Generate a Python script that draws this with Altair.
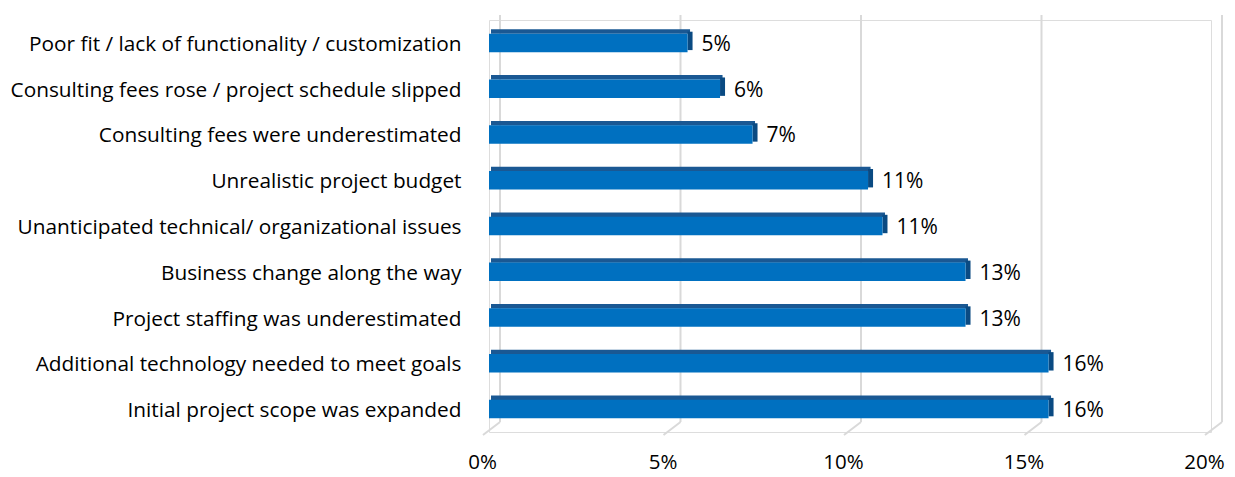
import altair as alt
import pandas as pd

categories = [
    "Poor fit / lack of functionality / customization",
    "Consulting fees rose / project schedule slipped",
    "Consulting fees were underestimated",
    "Unrealistic project budget ",
    "Unanticipated technical/ organizational issues",
    "Business change along the way",
    "Project staffing was underestimated",
    "Additional technology needed to meet goals",
    "Initial project scope was expanded",
]
values = [5.5, 6.4, 7.3, 10.5, 10.9, 13.2, 13.2, 15.5, 15.5]
value_labels = ["5%", "6%", "7%", "11%", "11%", "13%", "13%", "16%", "16%"]
ticks = [0, 5, 10, 15, 20]

FONT = "Open Sans"
FS = 21
FRONT = "#0070C0"
TOP = "#1A5893"
SIDE = "#0A4A82"
GRID = "#D9D9D9"

df = pd.DataFrame({"cat": categories, "v": values, "lab": value_labels, "zero": [0] * len(values)})
tdf = pd.DataFrame({"t": ticks})

xs = alt.Scale(domain=[0, 20], nice=False, zero=True)
ys = alt.Scale(domain=categories, paddingInner=0.5, paddingOuter=0.25)

X_AX = alt.Axis(values=ticks, labelExpr="datum.value + '%'", grid=False, domain=False, ticks=False,
                labelFlush=False, labelOffset=-7, labelPadding=20, labelFont=FONT, labelFontSize=20.5,
                labelColor="#000000", title=None)
Y_AX = alt.Axis(domain=False, ticks=False, grid=False, labelFont=FONT, labelFontSize=20.8,
                labelColor="#000000", labelPadding=28, labelLimit=700, title=None, labelOffset=2)

grid = alt.Chart(tdf).mark_rule(color=GRID, strokeWidth=2, xOffset=11).encode(
    x=alt.X("t:Q", scale=xs, axis=X_AX),
    y=alt.value(-5), y2=alt.value(402),
)
diag = alt.Chart(tdf).mark_rule(color=GRID, strokeWidth=2, xOffset=11, x2Offset=-6).encode(
    x=alt.X("t:Q", scale=xs), x2="t:Q",
    y=alt.value(402), y2=alt.value(415),
)

base = alt.Chart(df)
top = base.mark_bar(color=TOP, height=4.5, yOffset=-11.3, xOffset=2, x2Offset=2.5).encode(
    x=alt.X("zero:Q", scale=xs), x2="v:Q",
    y=alt.Y("cat:N", scale=ys, axis=Y_AX, sort=categories),
)
side = base.mark_bar(color=SIDE, height=18.4, yOffset=-2, xOffset=0, x2Offset=5).encode(
    x=alt.X("v:Q", scale=xs), x2="v:Q",
    y=alt.Y("cat:N", scale=ys, sort=categories),
)
front = base.mark_bar(color=FRONT, height=18.5).encode(
    x=alt.X("zero:Q", scale=xs), x2="v:Q",
    y=alt.Y("cat:N", scale=ys, sort=categories),
)
text = base.mark_text(align="left", baseline="middle", dx=14, dy=2, font=FONT, fontSize=FS,
                      color="#000000").encode(
    x=alt.X("v:Q", scale=xs), y=alt.Y("cat:N", scale=ys, sort=categories), text="lab:N",
)

chart = alt.layer(grid, diag, top, side, front, text).properties(
    width=722, height=412,
    autosize=alt.AutoSizeParams(type="none"),
    padding={"left": 481, "top": 12, "right": 16, "bottom": 45},
).configure_view(stroke=None).configure(background="#ffffff")

chart.save("out.html", embed_options={"renderer": "svg", "actions": False})
